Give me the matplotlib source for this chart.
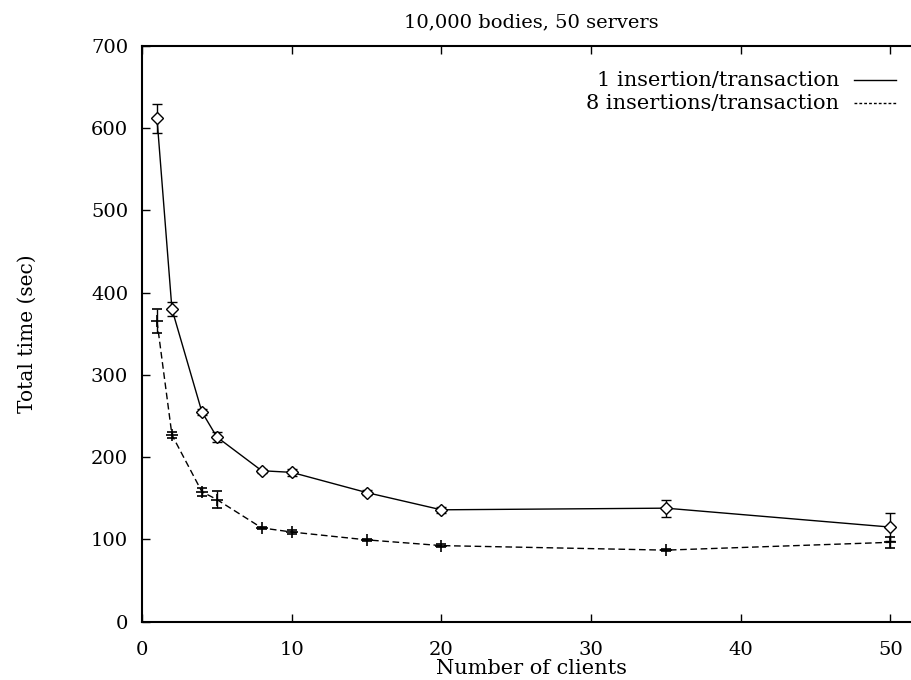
import numpy as np
import matplotlib
matplotlib.use('Agg')
import matplotlib.pyplot as plt

plt.rcParams['font.family'] = 'DejaVu Serif'
plt.rcParams['font.size'] = 14

# number of clients
clients = [1, 2, 4, 5, 8, 10, 15, 20, 35, 50]

# 1 insertion per transaction
one_time = [612, 380, 255, 224.5, 183.5, 181.5, 157, 136, 138, 115]
one_err = [17.5, 8, 3.5, 5.5, 2.5, 4.5, 3.5, 4, 10.5, 17]

# 8 insertions per transaction
eight_time = [365, 227, 158, 148.5, 114, 109, 99.5, 92.5, 87, 96.5]
eight_err = [14.5, 4, 5, 10.5, 1.5, 2, 1.5, 1.5, 1.5, 7]

fig = plt.figure(figsize=(9.12, 6.8), dpi=100)
ax = fig.add_axes([0.1557, 0.0857, 0.8535, 0.8471])

ax.errorbar(clients, one_time, yerr=one_err, color='black', lw=1.0,
            marker='D', ms=6, mfc='white', mec='black', mew=1.0,
            capsize=3.3, elinewidth=1.0, capthick=1.0)
ax.errorbar(clients, eight_time, yerr=eight_err, color='black', lw=1.0,
            ls=(0, (4.8, 2.6)), marker='+', ms=8, mew=1.2,
            capsize=3.3, elinewidth=1.0, capthick=1.0)

ax.set_xlim(0, 52)
ax.set_ylim(0, 700)
ax.set_xticks(np.arange(0, 51, 10))
ax.set_yticks(np.arange(0, 701, 100))
ax.tick_params(direction='in', length=6, width=1, top=True, right=False, labelsize=14)
ax.tick_params(axis='x', pad=14)
ax.tick_params(axis='y', pad=10)
for s in ax.spines.values():
    s.set_linewidth(1.5)

ax.set_title('10,000 bodies, 50 servers', fontsize=14, pad=13)
ax.set_xlabel('Number of clients', fontsize=15, labelpad=0)
ax.set_ylabel('Total time (sec)', fontsize=14.5, labelpad=39)

# key in the gnuplot style: text right aligned, sample line after it
ax.text(0.896, 0.940, '1 insertion/transaction', transform=ax.transAxes,
        ha='right', va='center', fontsize=15)
ax.plot([0.915, 0.969], [0.940, 0.940], transform=ax.transAxes, color='black', lw=1.0)
ax.text(0.896, 0.900, '8 insertions/transaction', transform=ax.transAxes,
        ha='right', va='center', fontsize=15)
ax.plot([0.915, 0.969], [0.900, 0.900], transform=ax.transAxes, color='black', lw=1.0,
        ls=(0, (2, 1.5)))

fig.savefig('out.png', dpi=100)
